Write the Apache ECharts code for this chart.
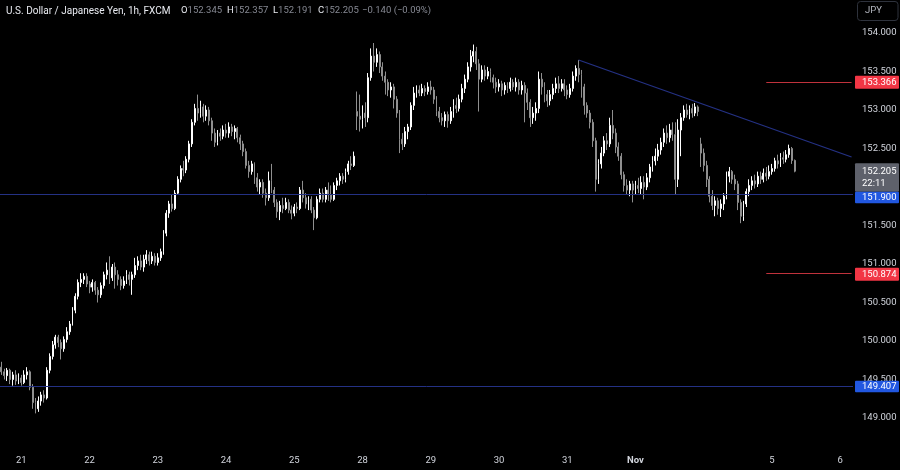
<!DOCTYPE html>
<html><head><meta charset="utf-8">
<script src="https://cdn.jsdelivr.net/npm/echarts@6/dist/echarts.min.js"></script>
<style>html,body{margin:0;padding:0;background:#000;}#c{width:900px;height:470px;}</style>
</head><body><div id="c"></div>
<script>
// ---- data (hourly USD/JPY, FXCM) ----
const opens = [
149.66,149.60,149.55,149.62,149.50,149.56,149.48,149.52,149.46,149.56,
149.60,149.40,149.20,149.12,149.22,149.30,149.26,149.62,149.80,149.95,
150.05,149.98,149.90,150.02,150.12,150.22,150.40,150.58,150.76,150.80,
150.84,150.74,150.70,150.76,150.66,150.60,150.72,150.86,150.92,150.82,
150.96,150.86,150.80,150.72,150.78,150.86,150.80,150.86,150.98,151.04,
150.96,151.06,151.12,151.04,151.10,151.02,151.08,151.16,151.40,151.66,
151.78,151.72,151.92,152.10,152.24,152.22,152.36,152.56,152.84,153.02,
152.96,153.04,152.92,153.00,152.86,152.70,152.58,152.70,152.66,152.74,
152.70,152.78,152.72,152.76,152.64,152.56,152.46,152.28,152.20,152.30,
152.12,152.00,152.06,151.92,151.86,152.08,151.96,151.80,151.68,151.76,
151.72,151.80,151.70,151.66,151.74,151.72,151.96,151.86,151.78,151.84,
151.70,151.60,151.84,151.92,151.84,151.96,151.90,151.84,152.02,152.08,
152.14,152.10,152.20,152.30,152.28,152.98,152.92,152.88,152.96,152.90,
153.42,153.70,153.62,153.72,153.56,153.44,153.36,153.26,153.30,153.14,
152.96,152.62,152.56,152.72,152.78,153.06,153.22,153.26,153.22,153.28,
153.24,153.30,153.26,153.14,152.98,152.90,152.86,152.94,152.86,152.98,
153.06,153.02,153.14,153.28,153.40,153.56,153.70,153.76,153.60,153.40,
153.52,153.44,153.50,153.42,153.36,153.30,153.34,153.26,153.32,153.28,
153.36,153.30,153.36,153.26,153.32,153.22,153.10,152.90,152.96,153.02,
153.40,153.30,153.20,153.12,153.20,153.28,153.34,153.28,153.34,153.26,
153.20,153.28,153.44,153.54,153.46,153.30,153.06,152.96,152.84,152.60,
152.10,152.30,152.44,152.60,152.56,152.80,152.70,152.52,152.40,152.16,
152.02,151.96,152.04,151.96,152.02,151.98,152.06,152.00,152.12,152.26,
152.34,152.40,152.48,152.58,152.70,152.64,152.74,152.68,152.10,152.74,
152.90,153.00,152.94,153.02,152.96,153.04,152.56,152.44,152.28,152.10,
151.88,151.76,151.82,151.72,151.78,151.88,152.14,152.20,152.10,152.04,
151.80,151.62,151.78,151.94,152.02,152.08,152.04,152.14,152.10,152.18,
152.14,152.20,152.24,152.34,152.30,152.38,152.36,152.42,152.50,152.345];
const closes = [
149.60,149.55,149.62,149.50,149.56,149.48,149.52,149.46,149.56,149.60,
149.40,149.20,149.12,149.22,149.30,149.26,149.62,149.80,149.95,150.05,
149.98,149.90,150.02,150.12,150.22,150.40,150.58,150.76,150.80,150.84,
150.74,150.70,150.76,150.66,150.60,150.72,150.86,150.92,150.82,150.96,
150.86,150.80,150.72,150.78,150.86,150.80,150.86,150.98,151.04,150.96,
151.06,151.12,151.04,151.10,151.02,151.08,151.16,151.40,151.66,151.78,
151.72,151.92,152.10,152.24,152.22,152.36,152.56,152.84,153.02,152.96,
153.04,152.92,153.00,152.86,152.70,152.58,152.70,152.66,152.74,152.70,
152.78,152.72,152.76,152.64,152.56,152.46,152.28,152.20,152.30,152.12,
152.00,152.06,151.92,151.86,152.08,151.96,151.80,151.68,151.76,151.72,
151.80,151.70,151.66,151.74,151.72,151.96,151.86,151.78,151.84,151.70,
151.60,151.84,151.92,151.84,151.96,151.90,151.84,152.02,152.08,152.14,
152.10,152.20,152.30,152.28,152.40,152.92,152.88,152.96,152.90,153.42,
153.70,153.62,153.72,153.56,153.44,153.36,153.26,153.30,153.14,152.96,
152.62,152.56,152.72,152.78,153.06,153.22,153.26,153.22,153.28,153.24,
153.30,153.26,153.14,152.98,152.90,152.86,152.94,152.86,152.98,153.06,
153.02,153.14,153.28,153.40,153.56,153.70,153.76,153.60,153.40,153.52,
153.44,153.50,153.42,153.36,153.30,153.34,153.26,153.32,153.28,153.36,
153.30,153.36,153.26,153.32,153.22,153.10,152.90,152.96,153.02,153.40,
153.30,153.20,153.12,153.20,153.28,153.34,153.28,153.34,153.26,153.20,
153.28,153.44,153.54,153.46,153.30,153.06,152.96,152.84,152.60,152.10,
152.30,152.44,152.60,152.56,152.80,152.70,152.52,152.40,152.16,152.02,
151.96,152.04,151.96,152.02,151.98,152.06,152.00,152.12,152.26,152.34,
152.40,152.48,152.58,152.70,152.64,152.74,152.68,152.10,152.74,152.90,
153.00,152.94,153.02,152.96,153.04,152.98,152.44,152.28,152.10,151.88,
151.76,151.82,151.72,151.78,151.88,152.14,152.20,152.10,152.04,151.80,
151.62,151.78,151.94,152.02,152.08,152.04,152.14,152.10,152.18,152.14,
152.20,152.24,152.34,152.30,152.38,152.36,152.42,152.50,152.345,152.205];
const lows = [
149.56,149.50,149.48,149.44,149.42,149.43,149.44,149.42,149.44,149.50,
149.36,149.12,149.06,149.08,149.16,149.20,149.24,149.58,149.76,149.90,
149.92,149.76,149.86,149.98,150.08,150.20,150.36,150.54,150.70,150.74,
150.70,150.62,150.64,150.60,150.50,150.56,150.68,150.80,150.74,150.78,
150.68,150.72,150.66,150.68,150.74,150.72,150.60,150.82,150.92,150.92,
150.90,151.00,150.98,151.00,150.98,150.98,151.04,151.12,151.36,151.60,
151.68,151.70,151.90,152.06,152.14,152.18,152.32,152.52,152.80,152.86,
152.90,152.84,152.86,152.80,152.60,152.52,152.54,152.60,152.62,152.64,
152.64,152.66,152.62,152.58,152.48,152.40,152.24,152.12,152.16,152.04,
151.94,151.90,151.86,151.76,151.82,151.92,151.74,151.60,151.57,151.66,
151.70,151.66,151.58,151.62,151.66,151.70,151.80,151.72,151.70,151.66,
151.44,151.58,151.80,151.80,151.80,151.82,151.80,151.82,151.96,152.02,
152.04,152.06,152.16,152.22,152.26,152.74,152.72,152.76,152.78,152.84,
153.38,153.50,153.56,153.48,153.38,153.20,153.18,153.16,153.02,152.90,
152.44,152.48,152.52,152.62,152.74,153.00,153.16,153.18,153.18,153.18,
153.20,153.20,153.08,152.92,152.84,152.80,152.78,152.77,152.82,152.90,
152.96,152.98,153.10,153.22,153.36,153.50,153.62,153.52,152.98,153.36,
153.38,153.40,153.36,153.28,153.22,153.24,153.18,153.20,153.22,153.24,
153.26,153.24,153.20,153.20,152.84,153.00,152.78,152.82,152.86,152.96,
153.20,153.10,153.04,153.06,153.14,153.22,153.22,153.24,153.18,153.14,
153.16,153.24,153.38,153.36,153.16,152.94,152.90,152.76,152.52,151.94,
152.04,152.24,152.40,152.48,152.52,152.62,152.44,152.34,152.10,151.94,
151.90,151.88,151.80,151.90,151.92,151.90,151.84,151.96,152.06,152.20,
152.28,152.34,152.42,152.52,152.56,152.58,152.60,151.90,152.00,152.40,
152.86,152.90,152.88,152.90,152.92,152.92,152.26,152.20,152.00,151.80,
151.70,151.62,151.64,151.61,151.70,151.84,152.06,152.04,151.96,151.70,
151.53,151.56,151.74,151.88,151.96,151.98,152.00,152.04,152.06,152.08,
152.10,152.16,152.20,152.24,152.26,152.30,152.32,152.38,152.30,152.191];
const highs = [
149.73,149.64,149.65,149.64,149.60,149.62,149.58,149.56,149.62,149.66,
149.62,149.44,149.26,149.28,149.34,149.36,149.66,149.84,150.00,150.08,
150.08,150.02,150.06,150.18,150.26,150.44,150.62,150.80,150.88,150.88,
150.88,150.78,150.80,150.78,150.70,150.76,150.90,151.02,151.10,151.00,
151.02,150.92,150.84,150.84,150.92,150.90,150.90,151.08,151.10,151.12,
151.12,151.18,151.16,151.16,151.14,151.14,151.20,151.44,151.70,151.82,
151.90,151.96,152.14,152.28,152.34,152.40,152.60,152.88,153.08,153.20,
153.12,153.08,153.06,153.04,152.90,152.76,152.74,152.76,152.80,152.82,
152.84,152.82,152.80,152.78,152.68,152.60,152.50,152.34,152.34,152.32,
152.18,152.10,152.10,151.98,152.20,152.30,152.00,151.84,151.82,151.86,
151.86,151.84,151.76,151.78,151.80,152.00,152.08,151.92,151.88,151.88,
151.74,151.88,151.98,151.98,152.00,152.06,152.02,152.06,152.12,152.18,
152.18,152.24,152.34,152.40,152.46,153.24,153.20,153.06,153.10,153.48,
153.80,153.87,153.80,153.76,153.62,153.50,153.40,153.36,153.34,153.18,
153.00,152.70,152.78,152.82,153.10,153.30,153.32,153.32,153.34,153.32,
153.36,153.38,153.30,153.18,153.04,152.96,152.98,152.98,153.04,153.14,
153.16,153.20,153.34,153.46,153.62,153.78,153.85,153.82,153.66,153.58,
153.58,153.56,153.54,153.46,153.42,153.40,153.38,153.36,153.36,153.42,
153.40,153.42,153.40,153.38,153.36,153.28,153.14,153.04,153.10,153.50,
153.48,153.36,153.26,153.26,153.34,153.42,153.44,153.40,153.40,153.32,
153.34,153.50,153.58,153.65,153.52,153.34,153.10,153.00,152.88,152.64,
152.36,152.52,152.66,152.70,152.90,153.00,152.76,152.58,152.44,152.20,
152.10,152.08,152.08,152.08,152.12,152.14,152.14,152.18,152.30,152.40,
152.50,152.56,152.64,152.76,152.80,152.82,152.84,152.84,152.88,152.96,
153.06,153.08,153.06,153.08,153.09,153.06,152.64,152.50,152.34,152.14,
151.96,151.88,151.86,151.84,151.92,152.20,152.26,152.22,152.16,152.08,
151.84,151.82,151.98,152.10,152.14,152.16,152.20,152.20,152.24,152.26,
152.28,152.30,152.38,152.42,152.44,152.46,152.48,152.55,152.52,152.357];

// x-axis day labels (bar index where each day starts)
const tickIndex  = [7, 31, 55, 79, 103, 127, 151, 175, 199, 223, 271, 295];
const tickLabels = ['21','22','23','24','25','28','29','30','31','Nov','5','6'];
const slotCount = 300;              // bars incl. empty space on the right

// y-axis ticks
const yMin = 148.5, yMax = 154.5, yStep = 0.5;

// drawn levels
const blueLevels = [151.900, 149.407];
const redLevels  = [153.366, 150.874];
const redLineFrom = 269;
const trendFrom = [203, 153.65];
const trendTo   = [299, 152.39];
const lastPrice = 152.205;
const countdown = '22:11';

// header
const titleText = 'U.S. Dollar / Japanese Yen, 1h, FXCM';
const changeText = '\u22120.140 (\u22120.09%)';
const currencyText = 'JPY';

// ---- chart ----
const FONT = 'Roboto';
const cats = [];
for (let i = 0; i < slotCount; i++) cats.push(String(i));
const labelAt = {};
tickIndex.forEach((k, j) => { labelAt[k] = tickLabels[j]; });
const candles = opens.map((o, i) => [o, closes[i], lows[i], highs[i]]);

const chart = echarts.init(document.getElementById('c'), null, {renderer: 'canvas'});
const LINE_BLUE = '#243184', LINE_RED = '#c0323c';

const mlData = [];
blueLevels.forEach(v => mlData.push({yAxis: v, lineStyle: {color: LINE_BLUE, width: 1, type: 'solid'}}));
redLevels.forEach(v => mlData.push([
  {coord: [String(redLineFrom), v], lineStyle: {color: LINE_RED, width: 1, type: 'solid'}},
  {coord: [String(slotCount - 1), v]}
]));
mlData.push([
  {coord: [String(trendFrom[0]), trendFrom[1]], lineStyle: {color: LINE_BLUE, width: 1.2, type: 'solid'}},
  {coord: [String(trendTo[0]), trendTo[1]]}
]);

chart.setOption({
  backgroundColor: '#000000',
  animation: false,
  textStyle: {fontFamily: FONT},
  grid: {left: 0, right: 47, top: -5.5, height: 462, outerBoundsMode: 'none', containLabel: false},
  xAxis: {
    type: 'category', data: cats, boundaryGap: true,
    axisLine: {show: false}, axisTick: {show: false}, splitLine: {show: false},
    axisLabel: {
      interval: (idx) => labelAt[idx] !== undefined,
      formatter: (val, idx) => labelAt[idx] === 'Nov' ? '{b|Nov}' : (labelAt[idx] || ''),
      color: '#d1d4dc', fontSize: 9.5, fontFamily: FONT, margin: -1,
      rich: {b: {fontWeight: 'bold', color: '#d1d4dc', fontSize: 9.5, fontFamily: FONT}}
    }
  },
  yAxis: {
    type: 'value', position: 'right', min: yMin, max: yMax, interval: yStep, scale: true,
    axisLine: {show: false}, axisTick: {show: false}, splitLine: {show: false},
    axisLabel: {
      showMinLabel: false, showMaxLabel: false,
      formatter: v => v.toFixed(3), color: '#d1d4dc', fontSize: 9.5, fontFamily: FONT,
      margin: 9, align: 'left'
    }
  },
  series: [{
    type: 'candlestick',
    data: candles,
    barWidth: 1.4,
    itemStyle: {color: '#ffffff', color0: '#8f8f8f', borderColor: '#ffffff', borderColor0: '#8f8f8f', borderWidth: 1},
    markLine: {symbol: ['none', 'none'], silent: true, animation: false, label: {show: false}, data: mlData}
  }]
});

// price tags on the right axis, placed through the axis scale
const py = v => chart.convertToPixel({yAxisIndex: 0}, v);
const TAG_X = 855, TAG_W = 44, TXT_X = 862;
const g = [];
function tag(v, fill, top, h) {
  g.push({type: 'rect', shape: {x: TAG_X, y: top, width: TAG_W, height: h, r: 1}, style: {fill: fill}, z: 50});
  g.push({type: 'text', x: TXT_X, y: top + h / 2, style: {text: v.toFixed(3), fill: '#ffffff', font: '9.5px ' + FONT, verticalAlign: 'middle'}, z: 51});
}
redLevels.forEach(v => tag(v, '#f23645', py(v) - 6, 13));
const lp = py(lastPrice);
const grayTop = lp - 8, grayH = 28.5;
g.push({type: 'rect', shape: {x: TAG_X, y: grayTop, width: TAG_W, height: grayH, r: 1}, style: {fill: '#5e616b'}, z: 50});
g.push({type: 'text', x: TXT_X, y: lp + 0.5, style: {text: lastPrice.toFixed(3), fill: '#ffffff', font: '9.5px ' + FONT, verticalAlign: 'middle'}, z: 51});
g.push({type: 'text', x: TXT_X, y: lp + 12, style: {text: countdown, fill: '#ffffff', font: '9.5px ' + FONT, verticalAlign: 'middle'}, z: 51});
blueLevels.forEach(v => {
  let top = py(v) - 6;
  if (top < grayTop + grayH && top + 13 > grayTop) top = grayTop + grayH;
  tag(v, '#2157e0', top, 11.5);
});
// currency box
g.push({type: 'rect', shape: {x: 857.5, y: 1.5, width: 40.5, height: 19, r: 3}, style: {fill: '#000', stroke: '#2e323c', lineWidth: 1}, z: 50});
g.push({type: 'text', x: 865, y: 11, style: {text: currencyText, fill: '#b2b5be', font: '9.5px ' + FONT, verticalAlign: 'middle'}, z: 51});
// header
const n = closes.length - 1;
g.push({type: 'text', x: 6, y: 11, style: {text: titleText, fill: '#e8eaf0', font: '10px ' + FONT, verticalAlign: 'middle'}, z: 51});
const hdr = [['O', opens[n], 181], ['H', highs[n], 227], ['L', lows[n], 273], ['C', closes[n], 318]];
hdr.forEach(([k, v, x]) => g.push({type: 'text', x: x, y: 11, style: {
  text: '{w|' + k + '}{g|' + v.toFixed(3) + '}', verticalAlign: 'middle',
  rich: {w: {fill: '#e8eaf0', font: '9.5px ' + FONT}, g: {fill: '#868993', font: '9.5px ' + FONT}}}, z: 51}));
g.push({type: 'text', x: 362, y: 11, style: {text: changeText, fill: '#868993', font: '9.5px ' + FONT, verticalAlign: 'middle'}, z: 51});

chart.setOption({graphic: g});
</script>
</body></html>
